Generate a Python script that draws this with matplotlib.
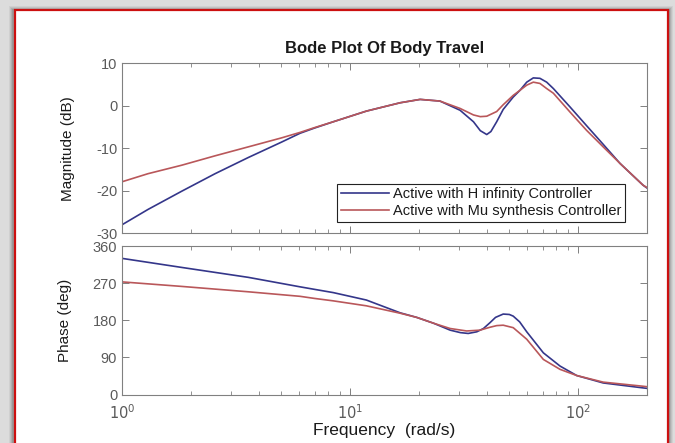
import matplotlib
matplotlib.use("Agg")
import matplotlib.pyplot as plt
from matplotlib.patches import Rectangle
from matplotlib.ticker import LogLocator, NullFormatter, FixedLocator

plt.rcParams['font.family'] = ['Liberation Sans', 'DejaVu Sans']
plt.rcParams['axes.unicode_minus'] = False

# Frequency response of body travel for two controllers
freq_mag_hinf = [1, 1.3, 1.83, 2.56, 3.58, 5.0, 6.04, 6.97, 8.45, 11.8, 16.6, 20.3,
                 24.8, 30.4, 34.8, 37.3, 39.8, 41.5, 44, 47, 52, 55.7, 59.6, 63.7, 68.1, 72.9,
                 78, 92.2, 109, 129, 153, 193, 200]
mag_hinf = [-28.0, -24.4, -20.1, -16.0, -12.2, -8.6, -6.5, -5.3, -3.8, -1.3, 0.66, 1.45,
            1.06, -1.1, -3.8, -5.9, -6.8, -6.1, -3.8, -0.9, 2.0, 3.6, 5.5, 6.5, 6.4, 5.5,
            4.0, -0.3, -4.7, -9.1, -13.6, -18.7, -19.3]

freq_mag_mu = [1, 1.3, 1.83, 2.56, 3.58, 5.0, 6.04, 6.97, 8.45, 11.8, 16.6, 20.3,
               24.8, 30.4, 34.8, 37.3, 39.8, 44, 47, 52, 55.7, 59.6, 63.7, 68.1, 72.9,
               78, 92.2, 109, 129, 153, 193, 200]
mag_mu = [-17.9, -16.0, -14.0, -11.8, -9.7, -7.6, -6.3, -5.2, -3.8, -1.3, 0.66, 1.45,
          1.06, -0.67, -2.2, -2.6, -2.5, -1.4, 0.2, 2.4, 3.6, 4.8, 5.5, 5.2, 4.0,
          2.9, -1.5, -5.8, -9.7, -13.6, -18.7, -19.2]

freq_phase_hinf = [1, 1.83, 3.58, 6.04, 6.97, 8.45, 11.8, 16.6, 19.6, 23.2, 27.5,
                   30.5, 33, 36, 38.5, 41.1, 43.5, 47, 50, 52, 55.5, 59.6, 70.5, 83.4,
                   98.7, 129, 193, 200]
phase_hinf = [330, 308, 284, 261, 255, 247, 229, 198, 187, 173, 156,
              150, 148, 152, 160, 174, 187, 195, 194, 190, 176, 152, 101, 69,
              46, 28, 16, 15]

freq_phase_mu = [1, 1.83, 3.58, 6.04, 6.97, 8.45, 11.8, 16.6, 19.6, 23.2, 27.5,
                 32.5, 37.2, 41.1, 44, 47, 52, 59.6, 70.5, 83.4, 98.7, 129, 193, 200]
phase_mu = [273, 262, 249, 238, 233, 227, 215, 197, 187, 173, 160,
            154, 156, 163, 167, 168, 162, 134, 85, 61, 46, 30, 20, 19]

series_labels = ['Active with H infinity Controller', 'Active with Mu synthesis Controller']
mag_ticks = [-30, -20, -10, 0, 10]
phase_ticks = [0, 90, 180, 270, 360]

BLUE = '#34368a'
RED = '#b9575a'
SPINE = '#808080'
TICKTXT = '#5a5a5a'

W, H = 675, 443
fig = plt.figure(figsize=(W / 100, H / 100), dpi=100)
fig.patch.set_facecolor('#dcdcdc')

# soft drop shadow behind the framed panel
for i, a in enumerate([0.05, 0.07, 0.09, 0.12]):
    off = 4 - i
    fig.patches.append(Rectangle(((13 - off) / W, -0.02), (656 + 2 * off) / W, (1 - (10 - off) / H) + 0.02,
                                 transform=fig.transFigure, facecolor='black', alpha=a,
                                 edgecolor='none', zorder=-3))
fig.patches.append(Rectangle((15 / W, -0.01), 653 / W, (1 - 10 / H) + 0.01,
                             transform=fig.transFigure, facecolor='white',
                             edgecolor='#cc1010', linewidth=1.6, zorder=-2))

ax1 = fig.add_axes([122 / W, 1 - 233.3 / H, 524.6 / W, 170.3 / H])
ax2 = fig.add_axes([122 / W, 1 - 394.5 / H, 524.6 / W, 148.5 / H])

ax1.semilogx(freq_mag_hinf, mag_hinf, color=BLUE, lw=1.2, label=series_labels[0])
ax1.semilogx(freq_mag_mu, mag_mu, color=RED, lw=1.2, label=series_labels[1])
ax2.semilogx(freq_phase_hinf, phase_hinf, color=BLUE, lw=1.2)
ax2.semilogx(freq_phase_mu, phase_mu, color=RED, lw=1.2)

for ax in (ax1, ax2):
    ax.set_xlim(1, 200)
    ax.xaxis.set_major_locator(FixedLocator([1, 10, 100]))
    ax.xaxis.set_minor_locator(LogLocator(base=10, subs=range(2, 10)))
    ax.xaxis.set_minor_formatter(NullFormatter())
    ax.tick_params(which='both', direction='in', top=True, right=True,
                   color=SPINE, labelcolor=TICKTXT, labelsize=10.5)
    ax.tick_params(which='major', length=5, width=0.7)
    ax.tick_params(which='minor', length=3, width=0.6)
    for s in ax.spines.values():
        s.set_color(SPINE)
        s.set_linewidth(0.8)
    ax.set_facecolor('white')

ax1.set_ylim(-30, 10)
ax1.set_yticks(mag_ticks)
ax1.set_xticklabels([])
ax2.set_ylim(0, 360)
ax2.set_yticks(phase_ticks)
ax2.set_xticks([1, 10, 100])
ax2.set_xticklabels([r'$10^{0}$', r'$10^{1}$', r'$10^{2}$'])
ax2.tick_params(axis='x', pad=6)

ax1.set_title('Bode Plot Of Body Travel', fontsize=12, fontweight='bold', color='#1a1a1a', pad=7)
ax1.set_ylabel('Magnitude (dB)', fontsize=11, color='#1a1a1a')
ax1.yaxis.set_label_coords(-0.0896, 0.5)
ax2.set_ylabel('Phase (deg)', fontsize=11, color='#1a1a1a')
ax2.yaxis.set_label_coords(-0.095, 0.5)
ax2.set_xlabel('Frequency  (rad/s)', fontsize=12.5, color='#1a1a1a', labelpad=1)

leg = ax1.legend(loc='lower right', bbox_to_anchor=(0.959, 0.068), borderaxespad=0,
                 fontsize=10.5, handlelength=3.3, handletextpad=0.3, borderpad=0.25,
                 labelspacing=0.2, fancybox=False, framealpha=1, edgecolor='#222222')
leg.get_frame().set_linewidth(0.8)
for t in leg.get_texts():
    t.set_color('#1a1a1a')

fig.savefig('out.png', dpi=100, facecolor=fig.get_facecolor())
